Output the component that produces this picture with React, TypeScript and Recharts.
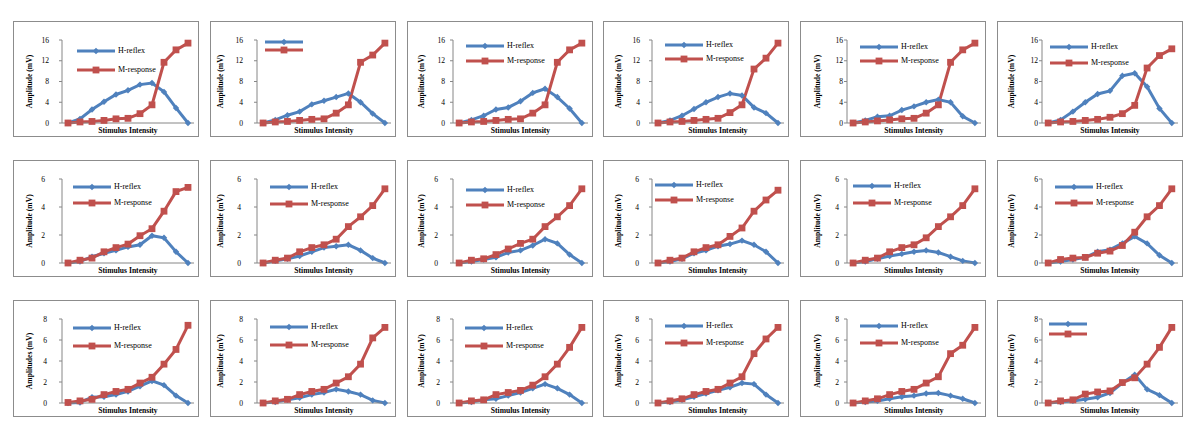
import React from 'react';
import { LineChart, Line, XAxis, YAxis } from 'recharts';

const FONT = '"Liberation Serif", "Times New Roman", serif';
const BLUE = '#4F81BD';
const RED = '#C0504D';
const AXIS = '#868686';
const FRAME = '#8c8c8c';

// ---------- data ----------
const stimulusSteps = [1, 2, 3, 4, 5, 6, 7, 8, 9, 10, 11];
const seriesNames = ['H-reflex', 'M-response'];

const ticksRow1 = [0, 4, 8, 12, 16];
const ticksRow2 = [0, 2, 4, 6];
const ticksRow3 = [0, 2, 4, 6, 8];

const hReflex1 = [0, 0.8, 2.6, 4.1, 5.5, 6.3, 7.4, 7.7, 6.0, 2.9, 0];
const mResponse1 = [0, 0.2, 0.3, 0.5, 0.8, 0.9, 1.8, 3.5, 11.7, 14.1, 15.4];
const hReflex2 = [0, 0.6, 1.5, 2.2, 3.6, 4.3, 5.0, 5.7, 4.0, 1.8, 0];
const mResponse2 = [0, 0.2, 0.3, 0.5, 0.7, 0.8, 1.9, 3.5, 11.7, 13.1, 15.4];
const hReflex3 = [0, 0.6, 1.4, 2.6, 3.0, 4.2, 5.8, 6.6, 5.0, 2.8, 0];
const mResponse3 = [0, 0.2, 0.3, 0.5, 0.7, 0.8, 1.9, 3.5, 11.7, 14.1, 15.4];
const hReflex4 = [0, 0.5, 1.4, 2.7, 4.0, 5.0, 5.7, 5.3, 3.0, 1.9, 0];
const mResponse4 = [0, 0.2, 0.3, 0.5, 0.7, 0.9, 2.0, 3.5, 10.4, 12.5, 15.4];
const hReflex5 = [0, 0.5, 1.2, 1.4, 2.5, 3.2, 4.0, 4.5, 4.0, 1.3, 0];
const mResponse5 = [0, 0.2, 0.4, 0.6, 0.8, 0.9, 1.9, 3.5, 11.7, 14.1, 15.4];
const hReflex6 = [0, 0.6, 2.2, 4.0, 5.6, 6.2, 9.1, 9.6, 7.0, 2.8, 0];
const mResponse6 = [0, 0.2, 0.3, 0.5, 0.7, 1.1, 1.8, 3.4, 10.6, 13.0, 14.3];

const hReflex7 = [0, 0.1, 0.45, 0.7, 0.9, 1.15, 1.3, 1.95, 1.8, 0.8, 0];
const mResponse7 = [0, 0.2, 0.35, 0.8, 1.1, 1.35, 1.95, 2.45, 3.7, 5.1, 5.4];
const hReflex8 = [0, 0.15, 0.3, 0.5, 0.8, 1.1, 1.2, 1.3, 0.9, 0.35, 0];
const mResponse8 = [0, 0.2, 0.35, 0.8, 1.1, 1.3, 1.7, 2.6, 3.3, 4.1, 5.3];
const hReflex9 = [0, 0.1, 0.25, 0.4, 0.75, 0.9, 1.25, 1.7, 1.4, 0.6, 0];
const mResponse9 = [0, 0.2, 0.3, 0.6, 1.0, 1.4, 1.7, 2.6, 3.3, 4.1, 5.3];
const hReflex10 = [0, 0.1, 0.3, 0.7, 0.9, 1.2, 1.35, 1.6, 1.3, 0.8, 0];
const mResponse10 = [0, 0.2, 0.35, 0.8, 1.1, 1.3, 1.9, 2.5, 3.7, 4.5, 5.2];
const hReflex11 = [0, 0.1, 0.3, 0.5, 0.65, 0.8, 0.9, 0.75, 0.45, 0.15, 0];
const mResponse11 = [0, 0.2, 0.35, 0.8, 1.1, 1.3, 1.8, 2.6, 3.3, 4.1, 5.3];
const hReflex12 = [0, 0.1, 0.25, 0.4, 0.8, 0.95, 1.4, 1.9, 1.4, 0.55, 0];
const mResponse12 = [0, 0.25, 0.35, 0.4, 0.7, 0.85, 1.25, 2.2, 3.3, 4.1, 5.3];

const hReflex13 = [0, 0.05, 0.55, 0.6, 0.8, 1.1, 1.6, 2.1, 1.7, 0.7, 0];
const mResponse13 = [0.05, 0.2, 0.35, 0.8, 1.1, 1.3, 1.9, 2.45, 3.7, 5.1, 7.4];
const hReflex14 = [0, 0.1, 0.3, 0.5, 0.8, 1.0, 1.3, 1.1, 0.8, 0.25, 0];
const mResponse14 = [0, 0.2, 0.35, 0.8, 1.1, 1.3, 1.9, 2.5, 3.7, 6.2, 7.2];
const hReflex15 = [0, 0.1, 0.3, 0.4, 0.7, 1.0, 1.4, 1.8, 1.4, 0.8, 0];
const mResponse15 = [0, 0.2, 0.3, 0.8, 1.0, 1.2, 1.7, 2.5, 3.7, 5.3, 7.2];
const hReflex16 = [0, 0.1, 0.3, 0.6, 0.9, 1.2, 1.5, 1.9, 1.8, 0.8, 0];
const mResponse16 = [0, 0.2, 0.4, 0.8, 1.1, 1.3, 1.9, 2.5, 4.7, 6.1, 7.2];
const hReflex17 = [0, 0.1, 0.2, 0.4, 0.6, 0.7, 0.9, 0.95, 0.7, 0.4, 0];
const mResponse17 = [0, 0.2, 0.4, 0.8, 1.1, 1.3, 1.9, 2.5, 4.7, 5.5, 7.2];
const hReflex18 = [0, 0.1, 0.2, 0.35, 0.55, 0.95, 1.9, 2.7, 1.3, 0.75, 0];
const mResponse18 = [0, 0.2, 0.3, 0.85, 1.05, 1.15, 1.95, 2.4, 3.7, 5.3, 7.2];

const hSeries = [hReflex1, hReflex2, hReflex3, hReflex4, hReflex5, hReflex6, hReflex7, hReflex8, hReflex9, hReflex10, hReflex11, hReflex12, hReflex13, hReflex14, hReflex15, hReflex16, hReflex17, hReflex18];
const mSeries = [mResponse1, mResponse2, mResponse3, mResponse4, mResponse5, mResponse6, mResponse7, mResponse8, mResponse9, mResponse10, mResponse11, mResponse12, mResponse13, mResponse14, mResponse15, mResponse16, mResponse17, mResponse18];
const rowTicks = [ticksRow1, ticksRow2, ticksRow3];
const yAxisTitles = [
  'Amplitude (mV)', 'Amplitude (mV)', 'Amplitude  (mV)', 'Amplitude (mV)', 'Amplitude (mV)', 'Amplitude (mV)',
  'Amplitude (mV)', 'Amplitude (mV)', 'Amplitude  (mV)', 'Amplitude (mV)', 'Amplitude (mV)', 'Amplitude (mV)',
  'Amplitudes (mV)', 'Amplitude (mV)', 'Amplitude (mV)', 'Amplitude (mV)', 'Amplitude (mV)', 'Amplitude (mV)',
];
const xAxisTitle = 'Stimulus Intensity';
const legendHasText = [true, false, true, true, true, true, true, true, true, true, true, true, true, true, true, true, true, false];

// ---------- layout ----------
const colLeft = [13, 210, 407, 603, 800, 997];
const rowTop = [21, 160, 300];
const rowHeight = [116, 117, 117];
const panelWidth = 186;
const axisWidth = [49, 47, 46, 49, 47, 45];
const yLabelX = [16, 10, 14, 15, 17, 14];
const tickGap = [
  [13, 14, 8, 12, 3, 4],
  [17, 16, 15, 13, 8, 4],
  [15, 14, 13, 13, 8, 3],
];
const legendPos = [
  [64, 30, 49], [55, 21, 29], [59, 25, 40], [62, 24, 38], [60, 26, 40], [53, 26, 42],
  [60, 27, 43], [60, 27, 44], [59, 30, 45], [52, 25, 40], [53, 26, 43], [58, 27, 43],
  [60, 28, 46], [60, 27, 45], [58, 28, 46], [62, 26, 43], [60, 26, 43], [52, 24, 34],
];

const diamondPath = (cx: number, cy: number, r: number) =>
  `M${cx},${cy - r} L${cx + r},${cy} L${cx},${cy + r} L${cx - r},${cy} Z`;

const renderDiamond = (p: any) => {
  if (p.cx == null || p.cy == null) return <g key={`d${p.index}`} />;
  return <path key={`d${p.index}`} d={diamondPath(p.cx, p.cy, 3.2)} fill={BLUE} stroke="none" />;
};
const renderSquare = (p: any) => {
  if (p.cx == null || p.cy == null) return <g key={`s${p.index}`} />;
  return <rect key={`s${p.index}`} x={p.cx - 3.4} y={p.cy - 3.4} width={6.8} height={6.8} fill={RED} stroke="none" />;
};

function LegendRow({ x, y, color, square, text }: any) {
  return (
    <div style={{ position: 'absolute', left: x, top: y - 5, height: 10, whiteSpace: 'nowrap' }}>
      <svg width={38} height={10} style={{ position: 'absolute', left: 0, top: 0 }}>
        <line x1={0} y1={5} x2={38} y2={5} stroke={color} strokeWidth={3} />
        {square ? (
          <rect x={19 - 3.4} y={5 - 3.4} width={6.8} height={6.8} fill={color} />
        ) : (
          <path d={diamondPath(19, 5, 3.2)} fill={color} />
        )}
      </svg>
      {text ? (
        <span style={{ position: 'absolute', left: 41, top: 0, fontFamily: FONT, fontSize: 8, lineHeight: '10px', color: '#000' }}>{text}</span>
      ) : null}
    </div>
  );
}

function Panel({ idx }: { idx: number }) {
  const row = Math.floor(idx / 6);
  const col = idx % 6;
  const ticks = rowTicks[row];
  const data = stimulusSteps.map((s, i) => ({ step: s, h: hSeries[idx][i], m: mSeries[idx][i] }));
  const H = rowHeight[row];
  const xAxisH = 14;
  const plotTop = 19;
  const gap = tickGap[row][col];
  const [lx, hy, my] = legendPos[idx];
  const yTitle = yAxisTitles[idx];

  const YLabel = (props: any) => {
    const vb = props.viewBox || {};
    const cx = yLabelX[col];
    const cy = (vb.y ?? plotTop) + (vb.height ?? 80) / 2;
    return (
      <text x={cx} y={cy} transform={`rotate(-90, ${cx}, ${cy})`} textAnchor="middle" dominantBaseline="central"
        fontFamily={FONT} fontWeight="bold" fontSize={7.6} fill="#000">{yTitle}</text>
    );
  };
  const XLabel = (props: any) => {
    const vb = props.viewBox || {};
    const cx = (vb.x ?? 0) + (vb.width ?? 0) / 2;
    const cy = (vb.y ?? 0) + 10;
    return (
      <text x={cx} y={cy} textAnchor="middle" fontFamily={FONT} fontWeight="bold" fontSize={7.6} fill="#000">{xAxisTitle}</text>
    );
  };

  return (
    <div style={{ position: 'absolute', left: colLeft[col], top: rowTop[row], width: panelWidth, height: H, background: '#fff' }}>
      <LineChart width={panelWidth} height={H} data={data} margin={{ top: plotTop, right: 5, bottom: 0, left: 0 }}>
        <XAxis dataKey="step" type="number" domain={[0.5, 11.5]} tick={false} tickLine={false}
          stroke={AXIS} height={xAxisH} label={<XLabel />} />
        <YAxis type="number" domain={[0, ticks[ticks.length - 1]]} ticks={ticks} interval={0}
          width={axisWidth[col]} tickSize={3} tickMargin={Math.max(1, gap - 3)} stroke={AXIS}
          tick={{ fontSize: 7.6, fill: '#000', fontFamily: FONT }} label={<YLabel />} />
        <Line dataKey="h" name={seriesNames[0]} stroke={BLUE} strokeWidth={3} dot={renderDiamond}
          activeDot={false} isAnimationActive={false} type="linear" />
        <Line dataKey="m" name={seriesNames[1]} stroke={RED} strokeWidth={3} dot={renderSquare}
          activeDot={false} isAnimationActive={false} type="linear" />
      </LineChart>
      <LegendRow x={lx} y={hy} color={BLUE} square={false} text={legendHasText[idx] ? seriesNames[0] : ''} />
      <LegendRow x={lx} y={my} color={RED} square={true} text={legendHasText[idx] ? seriesNames[1] : ''} />
      <div style={{ position: 'absolute', left: 0, top: 0, right: 0, bottom: 0, border: `1px solid ${FRAME}`, pointerEvents: 'none' }} />
    </div>
  );
}

export default function App() {
  return (
    <div style={{ position: 'absolute', left: 0, top: 0, width: 1200, height: 439, background: '#fff', overflow: 'hidden' }}>
      {hSeries.map((_, i) => (
        <Panel key={i} idx={i} />
      ))}
    </div>
  );
}
